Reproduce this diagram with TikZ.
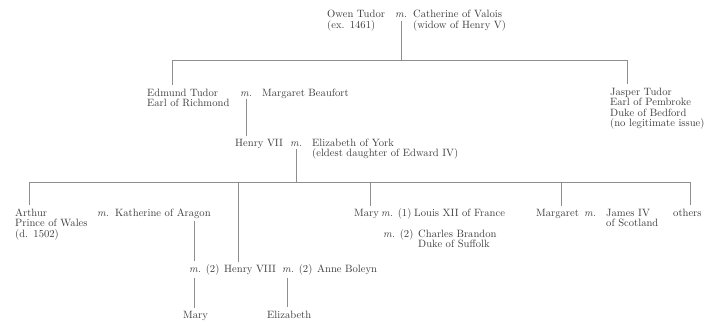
\documentclass[tikz,border=0pt]{standalone}
\usepackage{fontspec}
\definecolor{inkgray}{HTML}{3C3C3C}
\definecolor{rulegray}{HTML}{8E8E8E}
\begin{document}
\begin{tikzpicture}[x=1pt, y=1pt, font=\fontsize{10.6}{10.6}\selectfont,
  person/.style={anchor=base west, align=left, text width=180pt, inner xsep=0pt, inner ysep=3pt, text=inkgray},
  wed/.style={anchor=base west, inner xsep=0pt, inner ysep=3pt, text=inkgray},
  kin/.style={draw=rulegray, line width=0.9pt}]
\useasboundingbox (0,0) rectangle (706,-329);
\node[person] (owen) at (327,-18) {Owen Tudor\\(ex. 1461)};
\node[wed] (mOC) at (395,-18) {\textit{m.}};
\node[person] (cath) at (413,-18) {Catherine of Valois\\(widow of Henry V)};
\node[person] (edmund) at (147,-96) {Edmund Tudor\\Earl of Richmond};
\node[wed] (mEM) at (240,-96) {\textit{m.}};
\node[person] (marg) at (262,-96) {Margaret Beaufort};
\node[person] (jasper) at (610,-95) {Jasper Tudor\\Earl of Pembroke\\Duke of Bedford\\(no legitimate issue)};
\node[person] (h7) at (235,-146) {Henry VII};
\node[wed] (mHE) at (290,-146) {\textit{m.}};
\node[person] (eliz) at (312,-146) {Elizabeth of York\\(eldest daughter of Edward IV)};
\node[person] (arthur) at (15,-216) {Arthur\\Prince of Wales\\(d. 1502)};
\node[wed] (mAK) at (97,-216) {\textit{m.}};
\node[person] (kath) at (115,-216) {Katherine of Aragon};
\node[person] (mary) at (354,-216) {Mary};
\node[wed] (mML) at (381,-216) {\textit{m.} (1)};
\node[person] (louis) at (414,-216) {Louis XII of France};
\node[wed] (mMC) at (383,-237) {\textit{m.} (2)};
\node[person] (charles) at (418,-237) {Charles Brandon\\Duke of Suffolk};
\node[person] (margaret) at (536,-216) {Margaret};
\node[wed] (mMJ) at (584,-216) {\textit{m.}};
\node[person] (james) at (606,-216) {James IV\\of Scotland};
\node[person] (others) at (673,-216) {others};
\node[wed] (mKH) at (189,-272) {\textit{m.} (2)};
\node[person] (h8) at (224,-272) {Henry VIII};
\node[wed] (mHA) at (282,-272) {\textit{m.} (2)};
\node[person] (anne) at (317,-272) {Anne Boleyn};
\node[person] (mary1) at (183,-318) {Mary};
\node[person] (eliza) at (267,-318) {Elizabeth};
% bars
\coordinate (barA) at (172,-60);
\coordinate (barB) at (627,-60);
\coordinate (barC) at (29,-182);
\coordinate (barD) at (690,-182);
\coordinate (d8) at (238,-182);
\coordinate (dm) at (370,-182);
\coordinate (dg) at (561,-182);
\draw[kin] (barA) -- (barB);
\draw[kin] (mOC.south) -- (mOC.south |- barA);
\draw[kin] (barA) -- (barA |- edmund.north);
\draw[kin] (barB) -- (barB |- jasper.north);
\draw[kin] (mEM.south) -- (mEM.south |- h7.north);
\draw[kin] (barC) -- (barD);
\draw[kin] (mHE.south) -- (mHE.south |- barC);
\draw[kin] (barC) -- (barC |- arthur.north);
\draw[kin] (d8) -- (d8 |- h8.north);
\draw[kin] (dm) -- (dm |- mary.north);
\draw[kin] (dg) -- (dg |- margaret.north);
\draw[kin] (barD) -- (barD |- others.north);
\draw[kin] ([xshift=5pt]mKH.north west |- kath.south) -- ([xshift=5pt]mKH.north west);
\draw[kin] ([xshift=5pt]mKH.south west) -- ([xshift=5pt]mKH.south west |- mary1.north);
\draw[kin] ([xshift=5pt]mHA.south west) -- ([xshift=5pt]mHA.south west |- eliza.north);
\end{tikzpicture}
\end{document}
